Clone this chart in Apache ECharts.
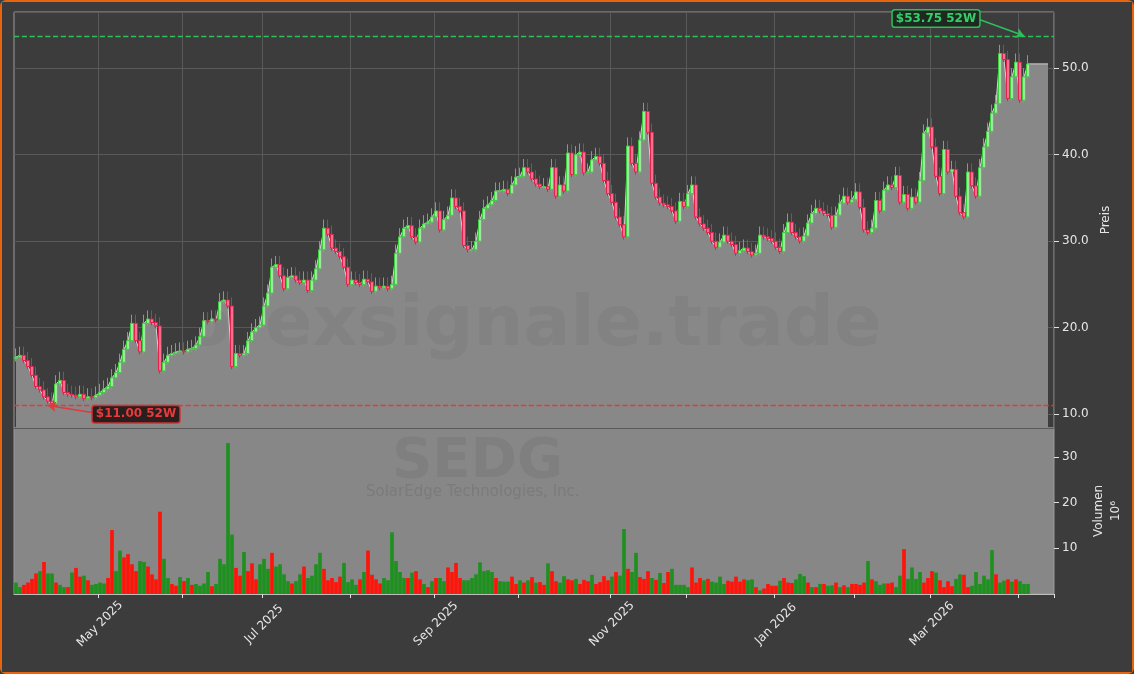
<!DOCTYPE html>
<html>
<head>
<meta charset="utf-8">
<script src="https://cdn.jsdelivr.net/npm/echarts@6/dist/echarts.min.js"></script>
<style>
  html, body { margin: 0; padding: 0; background: #3c3c3c; }
  #frame { width: 1134px; height: 674px; box-sizing: border-box; border: 2px solid #e8650e; border-radius: 6px; background: #3c3c3c; }
  #chart { width: 1130px; height: 670px; }
</style>
</head>
<body>
<div id="frame"><div id="chart"></div></div>
<script>
// Schlusskurse SEDG (geschaetzt aus dem Bild), ein Wert je Handelstag ab 01.04.2025
var closes = [
  16.6,16.8,16.2,15.5,14.5,13.2,12.8,12.0,11.5,11.2,
  13.5,13.9,12.5,12.3,12.2,12.0,12.3,11.8,12.0,11.9,
  12.2,12.5,12.9,13.2,14.2,14.8,16.0,17.5,18.5,20.5,
  18.5,17.2,20.5,21.0,20.6,20.2,15.0,16.0,16.8,17.0,
  17.2,17.3,17.2,17.5,17.6,18.0,19.0,20.8,20.7,21.0,
  20.9,23.0,23.2,22.5,15.5,17.0,16.8,17.0,18.5,19.5,
  20.0,20.3,22.5,24.0,27.0,27.3,26.0,24.5,25.8,26.0,
  25.5,25.2,25.5,24.3,25.5,26.8,29.0,31.5,30.8,29.2,
  28.8,28.2,27.0,25.0,25.5,25.2,25.0,25.6,25.3,24.2,
  24.8,24.6,24.8,24.5,25.0,28.6,30.5,31.5,31.8,30.5,
  29.9,31.5,32.0,32.2,32.8,33.5,31.3,32.5,33.0,35.0,
  34.0,33.5,29.5,29.0,29.0,30.0,32.5,33.8,34.2,34.7,
  35.8,35.8,36.0,35.5,36.5,37.4,37.5,38.5,38.0,37.2,
  36.6,36.3,36.3,36.0,38.5,35.2,36.5,35.8,40.2,37.7,
  40.0,40.3,37.9,38.0,39.4,39.8,39.0,37.0,35.5,34.5,
  32.8,31.9,30.5,41.0,39.0,38.0,41.7,45.0,42.6,36.7,
  35.1,34.4,34.2,34.0,33.5,32.3,34.6,34.0,35.5,36.5,
  32.8,32.0,31.5,31.0,30.0,29.3,29.9,30.7,30.0,29.6,
  28.6,28.9,29.2,28.8,28.4,28.6,30.7,30.5,30.3,30.0,
  29.3,28.8,31.0,32.2,31.0,30.5,30.0,30.6,32.1,33.2,
  33.8,33.5,33.2,33.0,31.6,33.0,34.4,35.2,34.5,34.8,
  35.7,33.9,31.3,31.0,31.5,34.7,33.5,35.9,36.5,36.2,
  37.6,34.5,35.4,33.8,35.1,34.5,37.0,42.5,43.2,
  40.9,37.5,35.5,40.6,38.0,38.3,35.2,33.3,32.8,38.0,
  36.4,35.2,38.5,40.9,42.7,44.8,45.9,51.7,51.0,46.5,
  49.0,50.7,46.3,49.0,50.5
];

// Volumen in Mio. Stueck
var volumes = [
  2.5,1.5,2,2.5,3.3,4.5,5,7,4.5,4.5,
  2.5,2,1.5,1.5,4.7,5.7,3.8,4,3,2,
  2.2,2.5,2.3,3.5,14,5,9.5,8,8.7,6.5,
  5,7.2,7,6,4.3,3.2,18,7.7,3.5,2.2,
  1.8,3.7,2.8,3.5,2,2.2,1.8,2.3,4.8,1.7,
  2.2,7.7,6.5,33,13,5.7,4,9.2,5,6.7,
  3.2,6.5,7.7,5.5,9,6,6.5,4.3,2.8,2.3,
  2.8,4.3,6,3.5,4,6.5,9,5.5,3,3.5,
  2.6,3.8,6.8,2.6,3.2,2,3.2,4.8,9.5,4.2,
  3.2,2.3,3.5,3,13.5,7.2,4.8,3.5,3.5,4.7,
  5,3.2,2.2,1.5,2.8,3.5,3.5,2.8,5.8,4.8,
  6.8,3.5,3,3,3.5,4.3,6.9,5,5.2,4.8,
  3.5,2.8,2.7,2.7,3.8,2.2,3,2.5,3,
  3.7,2.5,2.6,2,6.7,5,2.8,2.5,3.9,3.2,
  3,3.3,2.2,3.1,2.8,4.2,2.2,2.6,3.9,3,
  3.8,4.8,4,14.2,5.5,4.8,9,3.7,3.3,5,
  3.5,3.1,4.6,2.4,4.8,5.5,2,2,2,1.5,
  5.8,2.5,3.5,3,3.3,2.7,2.5,3.8,2.2,2.9,
  2.7,3.8,2.7,3.2,3,3.2,1.5,0.8,1.2,2.2,
  1.8,1.8,2.9,3.5,2.5,2.4,3.2,4.4,3.9,2.5,
  1.5,1.5,2.2,2.2,1.8,1.9,2.5,1.5,1.9,1.5,
  2.2,2.2,2,2.5,7.2,3.2,2.8,2,2.3,2.3,
  2.5,1.5,4,9.8,3.3,5.8,3.3,4.8,2.5,3.5,
  5,4.7,3,1.5,2.8,1.7,3.3,4.3,4.2,1.5,
  1.8,4.8,2.2,4,3.2,9.6,4.3,2.5,2.9,3.2,
  2.7,3.2,2.8,2.2,2.2
];
// g = Aufwaertstag (gruen), r = Abwaertstag (rot)
var volDirs = [
  'ggrrrrgrgg', 'rggrgrrgrg', 'gggrrggrrr', 'rggrrrrggr',
  'rgrgrggggr', 'gggggrrgrr', 'rgggrggggr', 'ggrggggrrr',
  'rrggggrgrr', 'rrggggggrg', 'rrgrgrggrr', 'rrgggggggg',
  'rgggrrgrg',
  'rgrrgrrggr', 'rgrrrgrrrr', 'grggrggrrr', 'grgrrggggg', 'rrrgrggggr',
  'rrrrggrgrr', 'rrgrrrgggr', 'grgrggrgrg', 'rrrrgrgggr',
  'rggrggggrr', 'rgrrrrggrr', 'ggggggrggr', 'grggg'
].join('');

var priceTicks = [10, 20, 30, 40, 50];
var high52 = 53.75, low52 = 11.00;
var holidays = ['2025-04-18','2025-05-26','2025-06-19','2025-07-04','2025-09-01','2025-11-27',
                '2025-12-25','2026-01-01','2026-01-19','2026-02-16'];
var monthNames = ['Jan','Feb','Mar','Apr','May','Jun','Jul','Aug','Sep','Oct','Nov','Dec'];
var padSlots = 6;

// Handelstage erzeugen
var dates = [];
var d = new Date(Date.UTC(2025, 3, 1));
while (dates.length < closes.length) {
  var s = d.toISOString().slice(0, 10);
  var wd = d.getUTCDay();
  if (wd !== 0 && wd !== 6 && holidays.indexOf(s) < 0) dates.push(s);
  d.setUTCDate(d.getUTCDate() + 1);
}
var cats = dates.slice();
for (var p = 0; p < padSlots; p++) cats.push('pad' + p);

function firstOfMonth(i) {
  var c = cats[i];
  if (!c || c.indexOf('pad') === 0) return false;
  if (i === 0) return false;
  return c.slice(5, 7) !== cats[i - 1].slice(5, 7);
}
function labelDay(i) {
  return firstOfMonth(i) && (parseInt(cats[i].slice(5, 7), 10) % 2 === 1);
}

var candles = [], volData = [];
for (var i = 0; i < closes.length; i++) {
  var o = i === 0 ? 16.4 : closes[i - 1];
  var c = closes[i];
  candles.push([o, c, Math.min(o, c) - 0.3, Math.max(o, c) + 1.0]);
  var up = volDirs.charAt(i) !== 'r';
  volData.push({ value: volumes[i], itemStyle: { color: up ? '#1e901e' : '#ff1408' } });
}
var areaData = closes.slice();
for (var p = 0; p < padSlots - 1; p++) areaData.push(closes[closes.length - 1]);

var chart = echarts.init(document.getElementById('chart'));
var txt = '#e6e6e6';
chart.setOption({
  animation: false,
  backgroundColor: '#3c3c3c',
  textStyle: { fontFamily: 'DejaVu Sans' },
  graphic: [
    { type: 'text', left: 150, top: 290, z: 100, silent: true, style: { text: 'forexsignale.trade', fontSize: 70, fontWeight: 'bold', fill: 'rgba(60,60,60,0.08)', fontFamily: 'DejaVu Sans' } },
    { type: 'text', left: 390, top: 432, z: 100, silent: true, style: { text: 'SEDG', fontSize: 56, fontWeight: 'bold', fill: 'rgba(60,60,60,0.1)', fontFamily: 'DejaVu Sans' } },
    { type: 'text', left: 364, top: 483, z: 100, silent: true, style: { text: 'SolarEdge Technologies, Inc.', fontSize: 15, fill: 'rgba(100,100,100,0.35)', fontFamily: 'DejaVu Sans' } }
  ],
  grid: [
    { left: 12, right: 78, top: 10, height: 416, show: true, borderColor: '#9a9a9a', backgroundColor: 'transparent' },
    { left: 12, right: 78, top: 426, height: 166, show: true, borderColor: '#9a9a9a', backgroundColor: '#878787' }
  ],
  xAxis: [
    { type: 'category', gridIndex: 0, data: cats, boundaryGap: true,
      axisLine: { show: false }, axisTick: { show: false }, axisLabel: { show: false },
      splitLine: { show: true, interval: function (i) { return firstOfMonth(i); }, lineStyle: { color: '#5a5a5a' } } },
    { type: 'category', gridIndex: 1, data: cats, boundaryGap: true,
      axisLine: { lineStyle: { color: '#bdbdbd' } },
      axisTick: { show: true, interval: function (i) { return firstOfMonth(i); }, lineStyle: { color: '#e0e0e0' }, length: 4 },
      axisLabel: { interval: function (i) { return labelDay(i); }, rotate: 45, color: txt, fontSize: 12, margin: 30,
        align: 'center', verticalAlign: 'middle',
        formatter: function (v) { return monthNames[parseInt(v.slice(5, 7), 10) - 1] + ' ' + v.slice(0, 4); } },
      splitLine: { show: false } }
  ],
  yAxis: [
    { type: 'value', gridIndex: 0, position: 'right', min: 8.4, max: 56.5, splitNumber: 5,
      name: 'Preis', nameLocation: 'middle', nameRotate: 90, nameGap: 44, nameTextStyle: { color: txt, fontSize: 12 },
      axisLine: { show: false }, axisTick: { show: true, lineStyle: { color: '#e0e0e0' } },
      axisLabel: { color: txt, fontSize: 12, showMinLabel: false, showMaxLabel: false,
        formatter: function (v) { return priceTicks.indexOf(Math.round(v)) >= 0 && Math.abs(v - Math.round(v)) < 1e-6 ? v.toFixed(1) : ''; } },
      splitLine: { lineStyle: { color: '#5a5a5a' } } },
    { type: 'value', gridIndex: 1, position: 'right', min: 0, max: 36.3, splitNumber: 4,
      name: 'Volumen\n10⁶', nameLocation: 'middle', nameRotate: 90, nameGap: 36, nameTextStyle: { color: txt, fontSize: 12, lineHeight: 17 },
      axisLine: { show: false }, axisTick: { show: true, lineStyle: { color: '#e0e0e0' } },
      axisLabel: { color: txt, fontSize: 12, showMinLabel: false, showMaxLabel: false },
      splitLine: { show: false } }
  ],
  series: [
    { type: 'line', xAxisIndex: 0, yAxisIndex: 0, data: areaData, symbol: 'none', z: 1,
      lineStyle: { color: '#d4d4d4', width: 1 }, areaStyle: { color: '#888888', opacity: 1, origin: 'start' } },
    { type: 'candlestick', xAxisIndex: 0, yAxisIndex: 0, data: candles, barWidth: 3, z: 3,
      itemStyle: { color: '#9fe69f', color0: '#ff6f8f', borderColor: '#3ecf3e', borderColor0: '#e8204c', borderWidth: 1 },
      markLine: {
        silent: true, symbol: 'none',
        data: [
          { yAxis: high52, lineStyle: { color: '#2fbf5a', type: 'dashed', width: 1.3 }, label: { show: false } },
          { yAxis: low52, lineStyle: { color: '#e03a3a', type: 'dashed', width: 1.3 }, label: { show: false } },
          [ { coord: [cats[241], 55.6], symbol: 'none', lineStyle: { color: '#2fbf5a', type: 'solid', width: 1.5 } },
            { coord: [cats[252], high52], symbol: 'arrow', symbolSize: 8 } ],
          [ { coord: [cats[19], 10.2], symbol: 'none', lineStyle: { color: '#e03a3a', type: 'solid', width: 1.5 } },
            { coord: [cats[8], low52], symbol: 'arrow', symbolSize: 8 } ]
        ],
        label: { show: false }
      },
      markPoint: {
        symbol: 'rect', symbolSize: 0,
        data: [
          { coord: [cats[230], 55.75], label: { show: true, formatter: '$53.75 52W', color: '#33d06a', fontWeight: 'bold', fontSize: 12,
              backgroundColor: '#1e2a20', borderColor: '#2fbf5a', borderWidth: 1.5, borderRadius: 2, padding: [2, 3] } },
          { coord: [cats[30], 10.0], label: { show: true, formatter: '$11.00 52W', color: '#e83a3a', fontWeight: 'bold', fontSize: 12,
              backgroundColor: '#2a1e1e', borderColor: '#d03030', borderWidth: 1.5, borderRadius: 2, padding: [2, 3] } }
        ]
      } },
    { type: 'bar', xAxisIndex: 1, yAxisIndex: 1, data: volData, barCategoryGap: '8%', z: 2 }
  ]
});
</script>
</body>
</html>
